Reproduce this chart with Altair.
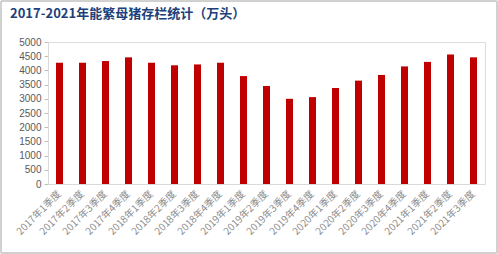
import altair as alt
import pandas as pd

title_text = "2017-2021年能繁母猪存栏统计（万头）"
quarters = ["2017年1季度", "2017年2季度", "2017年3季度", "2017年4季度",
            "2018年1季度", "2018年2季度", "2018年3季度", "2018年4季度",
            "2019年1季度", "2019年2季度", "2019年3季度", "2019年4季度",
            "2020年1季度", "2020年2季度", "2020年3季度", "2020年4季度",
            "2021年1季度", "2021年2季度", "2021年3季度"]
values = [4270, 4270, 4330, 4460, 4270, 4180, 4210, 4270, 3800, 3450,
          3000, 3060, 3380, 3640, 3840, 4140, 4300, 4560, 4460]
y_ticks = [0, 500, 1000, 1500, 2000, 2500, 3000, 3500, 4000, 4500, 5000]

df = pd.DataFrame({"q": quarters, "v": values})

bars = alt.Chart(df).mark_bar(color="#C00000", size=7).encode(
    x=alt.X("q:N", sort=quarters, title=None,
            scale=alt.Scale(paddingInner=0.7, paddingOuter=0.35),
            axis=alt.Axis(labelAngle=-45, labelFontSize=10, labelColor="#8C8C8C",
                          labelFont="Noto Sans CJK SC", domainColor="#D9D9D9",
                          ticks=False, labelPadding=8, labelAlign="right",
                          labelBaseline="middle")),
    y=alt.Y("v:Q", title=None,
            scale=alt.Scale(domain=[0, 5000], nice=False),
            axis=alt.Axis(values=y_ticks, grid=False, labelFontSize=10, format="d",
                          labelColor="#595959", labelFont="Liberation Sans",
                          domainColor="#D9D9D9", tickColor="#BFBFBF",
                          tickSize=4, labelPadding=3)),
)

frame = alt.Chart(df).mark_rect(fill=None, stroke="#D0D0D0", strokeWidth=1).encode(
    x=alt.value(-47), x2=alt.value(449), y=alt.value(-41), y2=alt.value(211)
)

title = alt.Chart(pd.DataFrame({"t": [title_text]})).mark_text(
    align="left", baseline="middle", fontSize=13, fontWeight="bold",
    color="#203F7A", font="Noto Sans CJK SC"
).encode(text="t:N", x=alt.value(-38), y=alt.value(-28))

chart = alt.layer(bars, frame, title).properties(
    width=437, height=142,
    padding={"left": 48, "top": 42, "right": 13, "bottom": 70},
    autosize=alt.AutoSizeParams(type="none"),
).configure_view(stroke=None).configure(background="white")

chart.save("out.html", embed_options={"renderer": "svg", "actions": False})
